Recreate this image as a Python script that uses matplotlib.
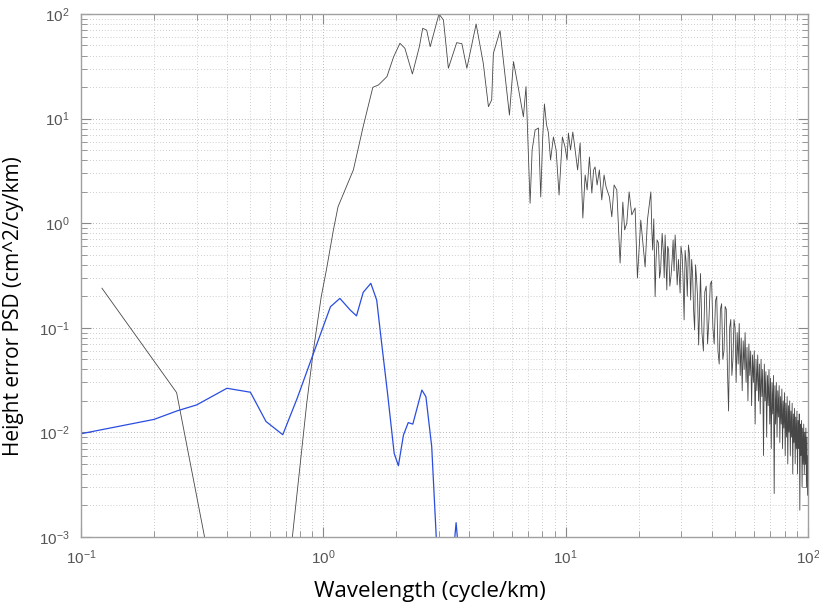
import math
import matplotlib
matplotlib.use("Agg")
import matplotlib.pyplot as plt
from matplotlib.ticker import LogLocator, FuncFormatter

# black curve: PSD of the height error
freq_k = [0.122, 0.248, 0.37, 0.5, 0.72, 0.854, 0.91, 0.98, 1.03, 1.10, 1.15, 1.33, 1.46, 1.60, 1.69,
          1.83, 1.95, 2.07, 2.17, 2.33, 2.49, 2.57, 2.67, 2.76, 3.0, 3.13, 3.28, 3.55, 3.73, 3.91,
          4.27, 4.57, 4.80, 4.95, 5.03, 5.36, 5.86, 6.09, 6.38, 6.69, 6.86,
          7.13, 7.27, 7.48, 7.72, 7.89, 8.03, 8.17, 8.34, 8.49, 8.66, 8.90, 9.13, 9.39, 9.69, 9.94,
          10.13, 10.26, 10.47, 10.70, 10.94, 11.20, 11.47, 11.77, 12.03, 12.26, 12.53, 12.82, 13.04,
          13.22, 13.48, 13.77, 14.09, 14.40, 14.68, 15.15, 15.50, 15.84, 16.25, 16.77, 17.21, 17.51,
          17.87, 18.27, 18.74, 19.34, 19.77, 20.41, 20.86, 21.27, 21.74, 22.46, 22.65, 22.85, 23.1,
          23.39, 23.6, 23.84, 24.14, 24.4, 24.65, 25.0, 25.31, 25.5, 25.72, 25.9, 26.14, 26.35,
          26.59, 26.9, 27.23, 27.5, 27.75, 28.0, 28.29, 28.55, 28.84, 29.2, 29.66, 29.9, 30.23,
          30.5, 30.81, 31.1, 31.40, 31.75, 32.10, 32.45, 32.78, 33.1, 33.41, 33.7, 34.05, 34.35,
          34.70, 35.0, 35.37,
          36, 36.5, 37, 37.5, 38, 38.5, 39, 39.5, 40, 40.5, 41, 41.5, 42, 42.5, 43, 43.5, 44, 44.5,
          45, 45.5, 46, 46.5, 47, 47.5, 48, 48.5, 49, 49.5, 50,
          50.5, 51, 51.5, 52, 52.5, 53, 53.5, 54, 54.5, 55, 55.5, 56, 56.5, 57, 57.5, 58, 58.5, 59,
          59.5, 60, 60.5, 61, 61.5, 62, 62.5, 63, 63.5, 64, 64.5, 65, 65.5, 66, 66.5, 67, 67.5, 68,
          68.5, 69, 69.5, 70, 70.5, 71, 71.5, 72, 72.5, 73, 73.5, 74, 74.5, 75, 75.5, 76, 76.5, 77,
          77.5, 78, 78.5, 79, 79.5, 80, 80.5, 81, 81.5, 82, 82.5, 83, 83.5, 84, 84.5, 85, 85.5, 86,
          86.5, 87, 87.5, 88, 88.5, 89, 89.5, 90, 90.5, 91, 91.5, 92, 92.5, 93, 93.5, 94, 94.5, 95,
          95.5, 96, 96.5, 97, 97.5, 98, 98.5, 99, 99.5, 100]
psd_k = [0.239, 0.024, 2e-4, 5e-5, 4.8e-4, 0.019, 0.061, 0.198, 0.36, 0.86, 1.44, 3.23, 8.4, 19.9, 21,
         25.2, 39, 52.5, 47, 26.7, 48.7, 73, 70, 48.7, 100, 87.6, 30.3, 53.2, 52, 30.3,
         80.2, 33.8, 13.0, 15.1, 42, 69.2, 10.8, 35.0, 19.5, 10.4, 20.2,
         1.55, 5.01, 7.78, 8.13, 1.78, 6.24, 13.8, 8.69, 7.28, 4.02, 6.67, 5.01, 1.86, 6.67, 5.35,
         4.02, 7.28, 5.01, 7.44, 5.01, 3.23, 5.84, 1.12, 2.89, 2.08, 4.29, 1.94, 3.23,
         3.45, 2.32, 3.23, 1.67, 2.89, 2.22, 1.78, 1.15, 2.32, 2.08, 0.416, 1.59, 0.861,
         1.0, 1.99, 1.20, 1.40, 0.299, 1.07, 0.619, 0.381, 1.07, 1.99, 0.9, 0.554, 1.1,
         0.198, 0.45, 0.691, 0.646, 0.3, 0.357, 0.8, 0.519, 0.3, 0.771, 0.45, 0.230, 0.6,
         0.554, 0.25, 0.320, 0.45, 0.691, 0.35, 0.771, 0.5, 0.257, 0.45, 0.215, 0.6, 0.497,
         0.3, 0.119, 0.55, 0.426, 0.2, 0.619, 0.5, 0.184, 0.45, 0.320, 0.15, 0.0953, 0.4,
         0.286, 0.2, 0.0685,
         0.33, 0.09, 0.06, 0.22, 0.25, 0.07, 0.12, 0.26, 0.28, 0.1, 0.07, 0.18, 0.20, 0.06, 0.045,
         0.15, 0.17, 0.05, 0.06, 0.16, 0.15, 0.04, 0.016, 0.1, 0.12, 0.035, 0.05, 0.12, 0.10,
         0.03, 0.09, 0.045, 0.11, 0.035, 0.08, 0.025, 0.075, 0.04, 0.09, 0.03, 0.065, 0.02, 0.07,
         0.035, 0.06, 0.018, 0.055, 0.03, 0.06, 0.012, 0.05, 0.025, 0.055, 0.02, 0.045, 0.015, 0.05,
         0.022, 0.04, 0.006, 0.045, 0.02, 0.038, 0.009, 0.035, 0.018, 0.04, 0.012, 0.033, 0.007,
         0.03, 0.015, 0.035, 0.0026, 0.028, 0.012, 0.03, 0.009, 0.025, 0.014, 0.028, 0.008, 0.022,
         0.012, 0.026, 0.007, 0.02, 0.011, 0.024, 0.006, 0.019, 0.009, 0.022, 0.005, 0.018, 0.01,
         0.02, 0.006, 0.016, 0.009, 0.019, 0.004, 0.015, 0.008, 0.017, 0.005, 0.014, 0.007, 0.016,
         0.004, 0.013, 0.007, 0.015, 0.0018, 0.012, 0.006, 0.013, 0.003, 0.011, 0.005, 0.012, 0.004,
         0.01, 0.005, 0.011, 0.003, 0.009, 0.0025, 0.006]

# blue curve
freq_b = [0.1, 0.2, 0.25, 0.3, 0.4, 0.5, 0.58, 0.68, 0.78, 0.90, 1.07, 1.17, 1.29, 1.37, 1.46, 1.57,
          1.66, 1.74, 1.84, 1.96, 2.04, 2.14, 2.24, 2.34, 2.55, 2.65, 2.80, 3.0, 3.3, 3.42, 3.53,
          3.64, 3.8]
psd_b = [0.0097, 0.0133, 0.0161, 0.0183, 0.0264, 0.0242, 0.0127, 0.0095, 0.0212, 0.053, 0.159,
         0.191, 0.148, 0.130, 0.218, 0.266, 0.184, 0.071, 0.0237, 0.0063, 0.0048, 0.0094, 0.0124,
         0.012, 0.0254, 0.0219, 0.0073, 0.0003, 1e-4, 6e-4, 0.00137, 6e-4, 1e-4]

plt.rcParams['mathtext.default'] = 'regular'

fig = plt.figure(figsize=(8.2, 6.03), dpi=100)
ax = fig.add_axes([0.0988, 0.1095, 0.8866, 0.8673])

ax.plot(freq_k, psd_k, color='#474747', lw=0.6)
ax.plot(freq_b, psd_b, color='#2a4de0', lw=0.9)

ax.set_xscale('log')
ax.set_yscale('log')
ax.set_xlim(0.1, 100)
ax.set_ylim(1e-3, 1e2)

ax.xaxis.set_major_locator(LogLocator(base=10, numticks=10))
ax.yaxis.set_major_locator(LogLocator(base=10, numticks=10))
ax.xaxis.set_minor_locator(LogLocator(base=10, subs=range(2, 10), numticks=20))
ax.yaxis.set_minor_locator(LogLocator(base=10, subs=range(2, 10), numticks=20))

def fmt(v, pos):
    e = int(round(math.log10(v)))
    return '10$^{%d}$' % e

ax.xaxis.set_major_formatter(FuncFormatter(fmt))
ax.yaxis.set_major_formatter(FuncFormatter(fmt))
ax.xaxis.set_minor_formatter(FuncFormatter(lambda v, p: ''))
ax.yaxis.set_minor_formatter(FuncFormatter(lambda v, p: ''))

ax.grid(True, which='major', ls=(0, (1, 2.5)), color='#a0a0a0', lw=0.6)
ax.grid(True, which='minor', ls=(0, (1, 2.5)), color='#bcbcbc', lw=0.6)

ax.tick_params(which='both', direction='in', top=True, right=True, colors='#888888',
               labelcolor='#555555', labelsize=11, pad=8)
ax.tick_params(which='major', length=7)
ax.tick_params(which='minor', length=4)
for s in ax.spines.values():
    s.set_color('#a0a0a0')
    s.set_linewidth(1.0)

for lab in ax.get_xticklabels() + ax.get_yticklabels():
    lab.set_family('Liberation Sans')

ax.set_xlabel('Wavelength (cycle/km)', fontsize=16, family='Open Sans')
ax.set_ylabel('Height error PSD (cm^2/cy/km)', fontsize=15, family='Open Sans')
ax.xaxis.set_label_coords(0.48, -0.085)
ax.yaxis.set_label_coords(-0.079, 0.442)

fig.savefig('out.png', dpi=100)
